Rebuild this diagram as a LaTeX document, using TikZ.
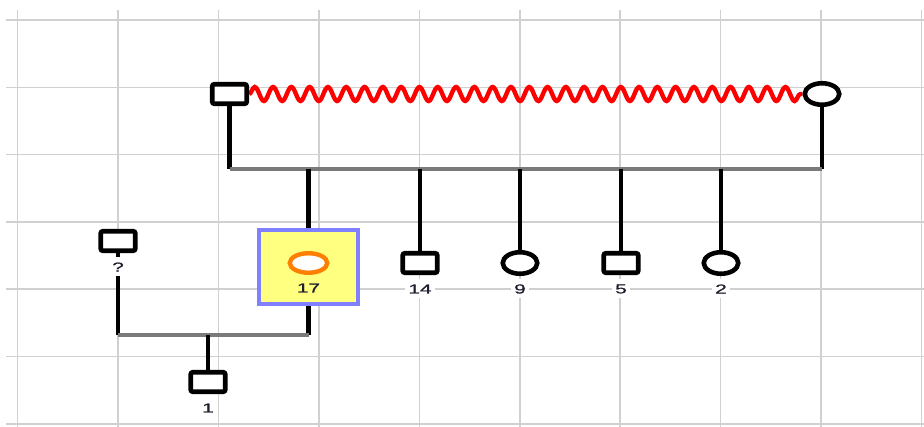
\documentclass[tikz,border=0pt]{standalone}
\usepackage{fontspec}
\setmainfont{Liberation Sans}
\newfontfamily\labelfont[FakeBold=0.8]{Liberation Sans}
\usetikzlibrary{shapes.geometric,decorations.pathmorphing}

\definecolor{gridcol}{HTML}{D0D0D0}
\definecolor{sibcol}{HTML}{7A7A7A}
\definecolor{zigcol}{HTML}{FF0000}
\definecolor{boxfill}{HTML}{FFFF80}
\definecolor{boxedge}{HTML}{7F7FFF}
\definecolor{probandcol}{HTML}{FF7F00}
\definecolor{labcol}{HTML}{1E1E2E}

\pgfdeclarelayer{gridlayer}
\pgfdeclarelayer{links}
\pgfsetlayers{gridlayer,links,main}

% labels are set wide, like the stretched symbols
\newcommand{\widelabel}[1]{\scalebox{1.6}[1]{#1}}

\tikzset{
  gridline/.style={draw=gridcol, line width=1.5pt},
  male/.style={rectangle, draw=black, line width=4.6pt, fill=white,
    rounded corners=2pt, minimum width=34.5pt, minimum height=19.5pt, inner sep=0pt},
  female/.style={ellipse, draw=black, line width=4.6pt, fill=white,
    minimum width=34.5pt, minimum height=21.5pt, inner sep=0pt},
  proband/.style={ellipse, draw=probandcol, line width=4.4pt, fill=white,
    minimum width=37.5pt, minimum height=19.5pt, inner sep=0pt},
  selbox/.style={rectangle, draw=boxedge, line width=4pt, fill=boxfill,
    minimum width=99pt, minimum height=74pt, inner sep=0pt},
  lab/.style={fill=white, text=labcol, inner xsep=3pt, inner ysep=0pt,
    minimum height=19pt, font=\labelfont\fontsize{13}{13}\selectfont},
  boxlab/.style={text=labcol, inner sep=0pt,
    font=\labelfont\fontsize{13}{13}\selectfont},
  kin/.style={draw=black, line width=4.6pt},
  sibline/.style={draw=sibcol, line width=3.6pt},
  zig/.style={draw=zigcol, line width=4.4pt,
    decorate, decoration={snake, segment length=18.3pt, amplitude=7pt}},
}

\begin{document}
\begin{tikzpicture}[x=1pt, y=-1pt]
\useasboundingbox (0,0) rectangle (924,427);

% background grid
\begin{pgfonlayer}{gridlayer}
  \fill[white] (0,0) rectangle (924,427);
  \foreach \k in {0,...,9}
    \draw[gridline] ({17.5+100.45*\k},10) -- ({17.5+100.45*\k},427);
  \foreach \j in {0,...,6}
    \draw[gridline] (6,{20+67.3*\j}) -- (924,{20+67.3*\j});
\end{pgfonlayer}

% parents
\node[male]   (f) at (229.5,94) {};
\node[female] (m) at (822,94) {};

% children
\node[selbox]  (c17) at (308.5,267) {};
\node[proband] (p17) at (308.5,263) {};
\node[boxlab]  (t17) at (308.5,288) {\widelabel{17}};
\node[male]    (c14) at (420,263) {};
\node[female]  (c9)  at (520,263) {};
\node[male]    (c5)  at (621,263) {};
\node[female]  (c2)  at (721,263) {};

% partner and grandchild
\node[male] (q)  at (118,241) {};
\node[male] (c1) at (208,382) {};

% labels
\node[lab] (tq)  at (118,267) {\widelabel{?}};
\node[lab] (t14) at (420,289) {\widelabel{14}};
\node[lab] (t9)  at (520,289) {\widelabel{9}};
\node[lab] (t5)  at (621,289) {\widelabel{5}};
\node[lab] (t2)  at (721,289) {\widelabel{2}};
\node[lab] (t1)  at (208,408) {\widelabel{1}};

\coordinate (sibL) at (229.5,169);
\coordinate (sibR) at (822,169);
\coordinate (cplL) at (118,335);
\coordinate (cplR) at (308.5,335);

\begin{pgfonlayer}{links}
  % relationship line
  \draw[zig] (f.east) -- (m.west);
  % sibship
  \draw[kin] (f.south) -- (sibL);
  \draw[kin] (m.south) -- (sibR);
  \draw[sibline] (sibL) -- (sibR);
  \foreach \c in {c17,c14,c9,c5,c2}
    \draw[kin] (\c.north) -- (\c.north |- sibL);
  % second couple and their child
  \draw[kin] (q.south) -- (cplL);
  \draw[kin] (c17.south) -- (cplR);
  \draw[sibline] (cplL) -- (cplR);
  \draw[kin] (c1.north) -- (c1.north |- cplL);
\end{pgfonlayer}
\end{tikzpicture}
\end{document}
